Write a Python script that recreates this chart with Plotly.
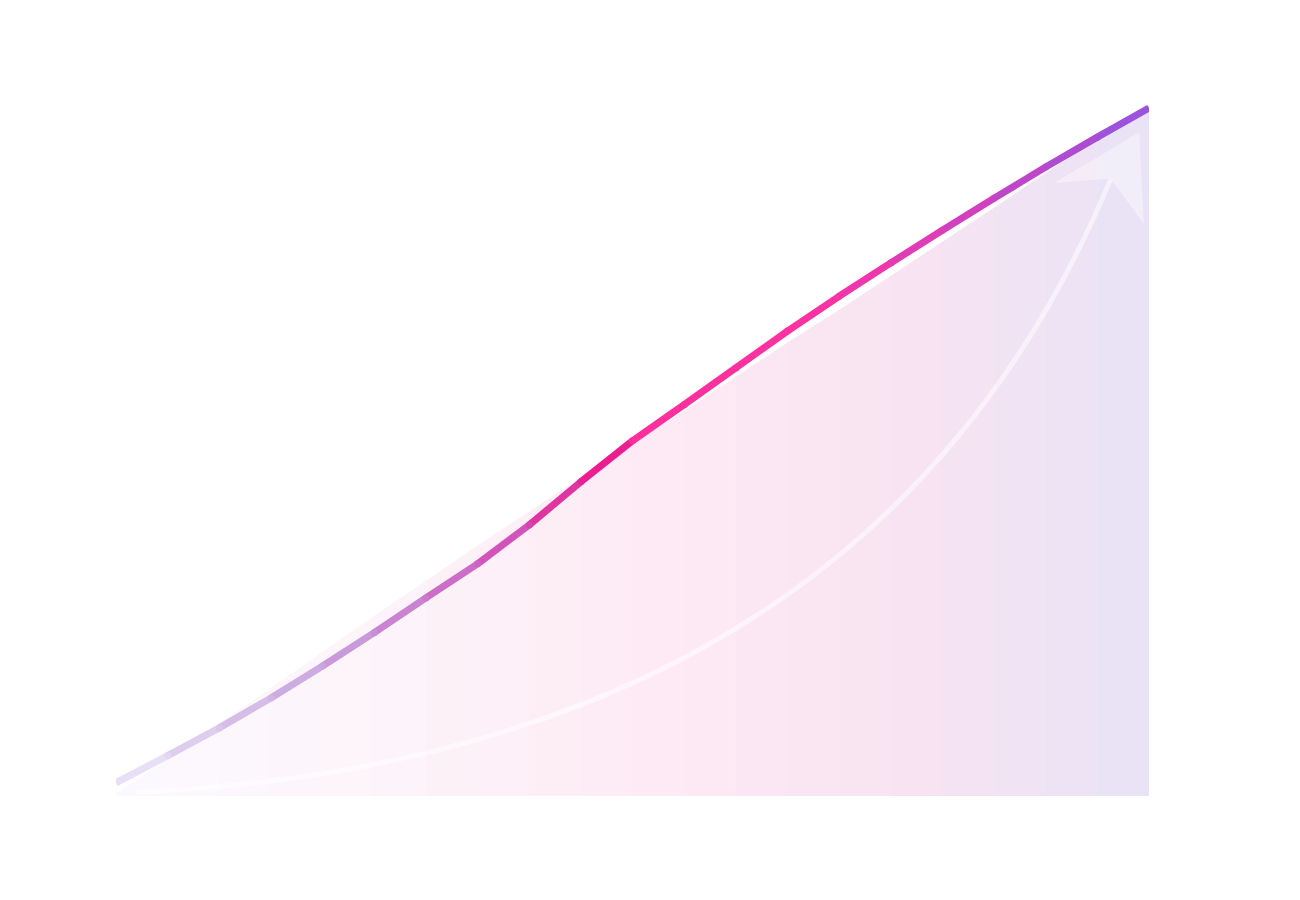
import plotly.graph_objects as go

# ---- data ----
x_steps = list(range(21))
line_values = [1.9, 5.8, 9.8, 14.1, 18.7, 23.5, 28.5, 33.4, 39.0, 45.2, 51.1,
               56.3, 61.6, 66.9, 71.9, 76.7, 81.4, 86.0, 90.5, 94.8, 99.0]
area_values = [0.3, 5.3, 10.4, 15.5, 20.7, 25.9, 30.9, 36.0, 40.9, 45.8, 50.6,
               55.4, 60.3, 65.2, 69.9, 74.8, 79.7, 84.6, 89.6, 94.5, 99.3]
# decorative arrow: quadratic curve (start, control, end) and its head
arrow_curve_x = [0.4, 14.62, 19.26]
arrow_curve_y = [0.5, 5.61, 88.8]
arrowhead_x = [18.16, 19.81, 19.90, 19.26, 18.16]
arrowhead_y = [88.2, 95.5, 82.3, 88.8, 88.2]

# ---- styling ----
line_stops = [(0.0, "#ebe7f8"), (0.2, "#c9a4de"), (0.35, "#cc62c4"),
              (0.47, "#e81a8e"), (0.5, "#ff2e9c"), (0.68, "#fd32a2"),
              (0.85, "#c843c4"), (1.0, "#9355e0")]
fill_stops = [(0.0, "#fbfaff"), (0.25, "#fdf4fa"), (0.5, "#fdebf5"),
              (0.75, "#f9e3f1"), (0.88, "#f0e3f4"), (1.0, "#e7e3f5")]
LINE_W = 7


def hex_rgb(h):
    h = h.lstrip("#")
    return tuple(int(h[i:i + 2], 16) for i in (0, 2, 4))


def color_at(stops, t):
    for (t0, c0), (t1, c1) in zip(stops[:-1], stops[1:]):
        if t0 <= t <= t1:
            f = 0 if t1 == t0 else (t - t0) / (t1 - t0)
            a, b = hex_rgb(c0), hex_rgb(c1)
            r = [round(a[k] + (b[k] - a[k]) * f) for k in range(3)]
            return f"rgb({r[0]},{r[1]},{r[2]})"
    return stops[-1][1]


fig = go.Figure()
n = len(x_steps)

# filled area in vertical colour bands
for i in range(n - 1):
    t = (i + 0.5) / (n - 1)
    c = color_at(fill_stops, t)
    fig.add_trace(go.Scatter(
        x=[x_steps[i], x_steps[i + 1], x_steps[i + 1], x_steps[i], x_steps[i]],
        y=[area_values[i], area_values[i + 1], 0, 0, area_values[i]],
        mode="lines", fill="toself", fillcolor=c,
        line=dict(width=0.6, color=c), hoverinfo="skip", showlegend=False))

# arrowhead
fig.add_trace(go.Scatter(x=arrowhead_x, y=arrowhead_y, mode="lines", fill="toself",
                         fillcolor="rgba(255,255,255,0.38)", line=dict(width=0),
                         hoverinfo="skip", showlegend=False))

# gradient line drawn as coloured segments
for i in range(n - 1):
    t = (i + 0.5) / (n - 1)
    fig.add_trace(go.Scatter(
        x=[x_steps[i], x_steps[i + 1]], y=[line_values[i], line_values[i + 1]],
        mode="lines", line=dict(color=color_at(line_stops, t), width=LINE_W),
        hoverinfo="skip", showlegend=False))
# round the joints between segments
joint_colors = [color_at(line_stops, i / (n - 1)) for i in range(1, n - 1)]
fig.add_trace(go.Scatter(x=x_steps[1:-1], y=line_values[1:-1], mode="markers",
                         marker=dict(size=LINE_W, color=joint_colors, line=dict(width=0)),
                         hoverinfo="skip", showlegend=False))

arrow_path = (f"M {arrow_curve_x[0]},{arrow_curve_y[0]} "
              f"Q {arrow_curve_x[1]},{arrow_curve_y[1]} {arrow_curve_x[2]},{arrow_curve_y[2]}")
fig.add_shape(type="path", path=arrow_path, xref="x", yref="y",
              line=dict(color="rgba(255,255,255,0.5)", width=5), layer="above")

fig.update_layout(
    width=1300, height=900,
    margin=dict(l=108, r=159, t=93, b=112),
    paper_bgcolor="white", plot_bgcolor="white",
    xaxis=dict(range=[0, 20], visible=False, showgrid=False, zeroline=False),
    yaxis=dict(range=[0, 100], visible=False, showgrid=False, zeroline=False),
    showlegend=False, hovermode=False,
)

fig.write_html("out.html")
